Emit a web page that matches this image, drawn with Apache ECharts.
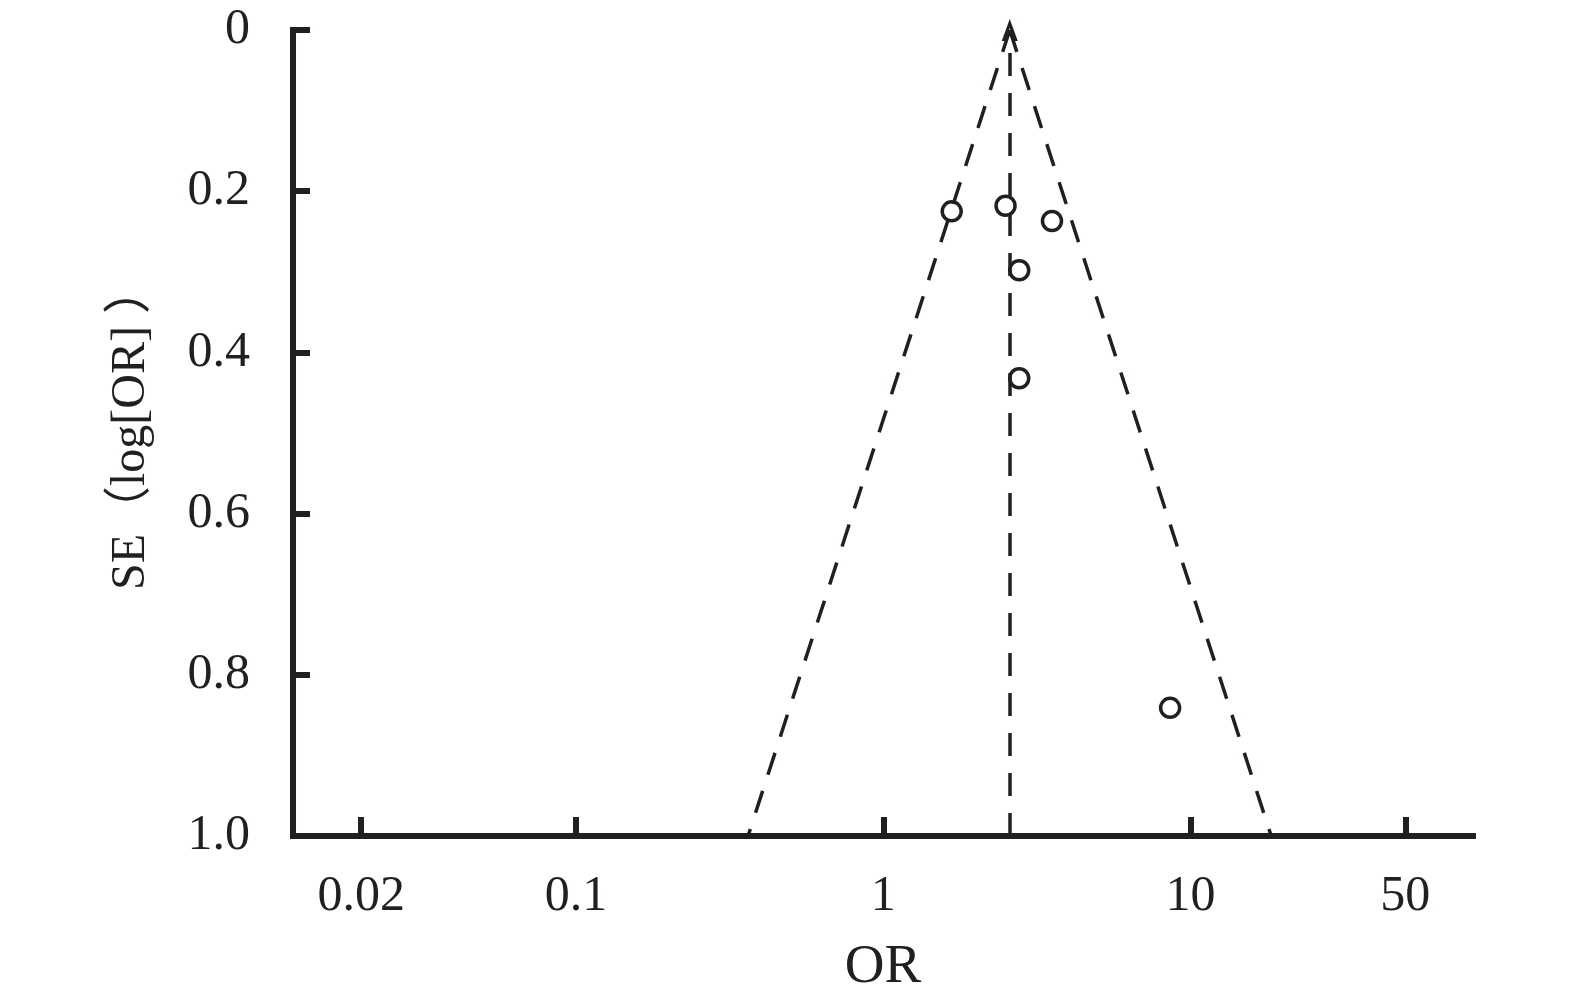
<!DOCTYPE html>
<html>
<head>
<meta charset="utf-8">
<style>
  html, body { margin: 0; padding: 0; background: #fff; }
  #chart { width: 1575px; height: 1007px; }
</style>
<script src="https://cdn.jsdelivr.net/npm/echarts@6/dist/echarts.min.js"></script>
</head>
<body>
<div id="chart"></div>
<script>
// ---- data ----
const studyOR = [1.67, 2.50, 3.54, 2.77, 2.77, 8.58];
const studySE = [0.225, 0.218, 0.237, 0.298, 0.432, 0.841];
const pooledOR = 2.58;
const funnelApexSE = 0;
const funnelBaseSE = 1.0;
const funnelLowerOR = 0.363;   // lower 95% limit at SE = 1.0
const funnelUpperOR = 18.3;    // upper 95% limit at SE = 1.0
const xTickValues = [0.02, 0.1, 1, 10, 50];
const xTickLabels = ['0.02', '0.1', '1', '10', '50'];
const yTickLabels = ['0', '0.2', '0.4', '0.6', '0.8', '1.0'];
const xAxisTitle = 'OR';
const yAxisTitleMain = 'SE（log[OR]';
const yAxisTitleClose = '）';

const ink = '#231f20';
const serif = "'Liberation Serif', 'Times New Roman', 'Noto Sans CJK SC', serif";

const points = studyOR.map((v, i) => [v, studySE[i]]);

const chart = echarts.init(document.getElementById('chart'), null, { renderer: 'canvas' });
chart.setOption({
  backgroundColor: '#fff',
  animation: false,
  grid: {
    left: 293, right: 102, top: 30, bottom: 171,
    containLabel: false,
    outerBoundsMode: 'none'
  },
  xAxis: {
    type: 'log',
    min: 0.012,
    max: 83,
    name: xAxisTitle,
    nameLocation: 'middle',
    nameGap: 104,
    nameTextStyle: { fontFamily: serif, fontSize: 55, color: ink },
    axisLine: { show: true, onZero: false, lineStyle: { color: ink, width: 6, cap: 'square' } },
    axisTick: {
      show: true, inside: true, length: 19,
      customValues: xTickValues,
      lineStyle: { color: ink, width: 6 }
    },
    axisLabel: {
      show: true,
      customValues: xTickValues,
      margin: 36,
      fontFamily: serif, fontSize: 50, color: ink,
      formatter: (v) => {
        const idx = xTickValues.findIndex(t => Math.abs(t - v) / t < 1e-6);
        return idx >= 0 ? xTickLabels[idx] : '';
      }
    },
    splitLine: { show: false },
    minorTick: { show: false }
  },
  yAxis: {
    type: 'value',
    inverse: true,
    min: 0,
    max: 1,
    interval: 0.2,
    name: '{m|' + yAxisTitleMain + '}{c|' + yAxisTitleClose + '}',
    nameLocation: 'middle',
    nameGap: 138,
    nameRotate: 90,
    nameTextStyle: {
      fontFamily: serif, fontSize: 48, color: ink,
      rich: {
        m: { fontFamily: serif, fontSize: 48, color: ink, padding: [0, 0, 0, 10] },
        c: { fontFamily: serif, fontSize: 48, color: ink, padding: [0, 0, 0, 12] }
      }
    },
    axisLine: { show: true, onZero: false, lineStyle: { color: ink, width: 6, cap: 'square' } },
    axisTick: { show: true, inside: true, length: 17, lineStyle: { color: ink, width: 6 } },
    axisLabel: {
      show: true,
      margin: 43,
      fontFamily: serif, fontSize: 50, color: ink,
      formatter: (v) => yTickLabels[Math.round(v / 0.2)]
    },
    splitLine: { show: false }
  },
  series: [
    {
      type: 'line',
      name: 'lower',
      data: [[pooledOR, funnelApexSE], [funnelLowerOR, funnelBaseSE]],
      symbol: 'none',
      lineStyle: { color: ink, width: 3.5, type: [23, 17] },
      silent: true
    },
    {
      type: 'line',
      name: 'upper',
      data: [[pooledOR, funnelApexSE], [funnelUpperOR, funnelBaseSE]],
      symbol: 'none',
      lineStyle: { color: ink, width: 3.5, type: [23, 17] },
      silent: true
    },
    {
      type: 'scatter',
      name: 'studies',
      data: points,
      symbol: 'circle',
      symbolSize: 19,
      itemStyle: { color: 'rgba(0,0,0,0)', borderColor: ink, borderWidth: 3.5, opacity: 1 },
      markLine: {
        silent: true,
        symbol: ['none', 'path://M0,0 L8,22 L4.6,22 L0,9 L-4.6,22 L-8,22 Z'],
        symbolSize: [16, 22],
        symbolOffset: [0, 0],
        label: { show: false },
        lineStyle: { color: ink, width: 3.5, type: [23, 17], opacity: 1 },
        itemStyle: { color: ink },
        data: [[{ coord: [pooledOR, funnelBaseSE] }, { coord: [pooledOR, funnelApexSE] }]]
      }
    }
  ]
});
</script>
</body>
</html>
